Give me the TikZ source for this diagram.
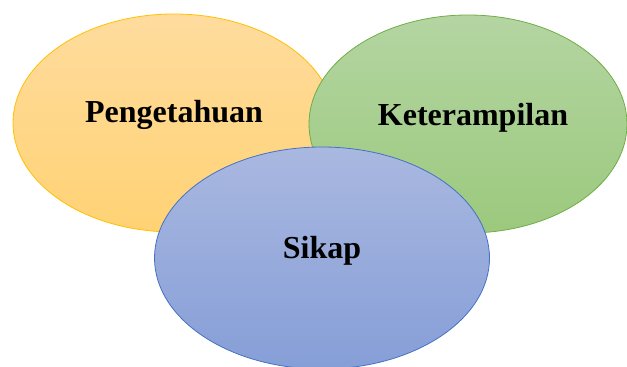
\documentclass[tikz,border=0pt]{standalone}
\usepackage{fontspec}
\setmainfont{Liberation Serif}
\usetikzlibrary{shapes.geometric}
\definecolor{orangeline}{HTML}{FFC000}
\definecolor{orangetop}{HTML}{FFDC9E}
\definecolor{orangebot}{HTML}{FFD274}
\definecolor{greenline}{HTML}{70AD47}
\definecolor{greentop}{HTML}{B4D5A2}
\definecolor{greenbot}{HTML}{9BC97D}
\definecolor{blueline}{HTML}{4472C4}
\definecolor{bluetop}{HTML}{A9B8E0}
\definecolor{bluebot}{HTML}{869ED7}
\tikzset{
    circlebox/.style={ellipse, inner sep=0pt, line width=0.8pt},
    circletext/.style={font=\fontsize{32}{36}\selectfont\bfseries, anchor=base, inner sep=0pt}
}
\begin{document}
\begin{tikzpicture}[x=1pt,y=1pt]
        \useasboundingbox (0,0) rectangle (627,367);

        % Ellipse Pengetahuan
        \node[circlebox, draw=orangeline, top color=orangetop, bottom color=orangebot,
              minimum width=322, minimum height=218] (peng) at (174,244) {};

        % Ellipse Keterampilan
        \node[circlebox, draw=greenline, top color=greentop, bottom color=greenbot,
              minimum width=318, minimum height=218] (ket) at (468,243) {};

        % Ellipse Sikap
        \node[circlebox, draw=blueline, top color=bluetop, bottom color=bluebot,
              minimum width=335, minimum height=222] (sik) at (322,109) {};

        % Labels
        \node[circletext] (pengtext) at (174,244) {Pengetahuan};
        \node[circletext] (kettext) at (473,241) {Keterampilan};
        \node[circletext] (siktext) at (322,108) {Sikap};
    \end{tikzpicture}
\end{document}
